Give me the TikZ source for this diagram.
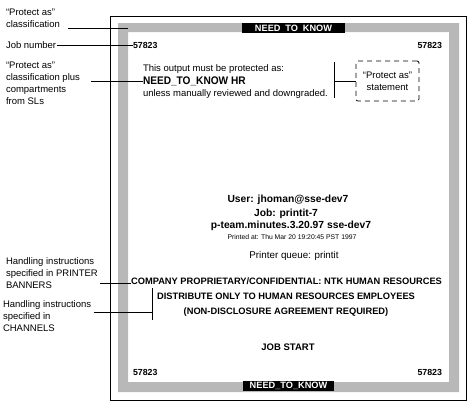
\documentclass[tikz,border=0pt]{standalone}
\usepackage{fontspec}
\setmainfont{Liberation Sans}
\newcommand{\fsz}[1]{\fontsize{#1}{#1}\selectfont}
\begin{document}
\begin{tikzpicture}[x=1pt,y=-1pt,
  every node/.style={inner sep=0pt,outer sep=0pt},
  ann/.style={anchor=north west,align=left,font=\fontsize{9.5}{12}\selectfont},
  lead/.style={line width=0.8pt},
  plain/.style={font=\fsz{9.5}},
  caps/.style={font=\fsz{9.3}\bfseries},
  jobno/.style={font=\fsz{8.8}\bfseries},
  header/.style={font=\fsz{10.3}\bfseries},
  banner/.style={fill=black,text=white,font=\fsz{9.2}\bfseries,minimum height=10pt},
  stmtbox/.style={draw,dash pattern=on 5pt off 4pt,rounded corners=2pt,line width=0.8pt,
    minimum width=63pt,minimum height=40pt,align=center,font=\fontsize{9.5}{12}\selectfont}
]
\useasboundingbox (0,0) rectangle (476,407);
% page
\draw[line width=0.8pt] (110,16) rectangle (466,400);
\fill[black!28,even odd rule] (118,23) rectangle (459,392) (128,32) rectangle (449,382);

% banners
\node[banner,minimum width=103pt] (ntkTop) at (293.5,28) {NEED\hspace{0.25em} TO\hspace{0.25em} KNOW};
\node[banner,minimum width=91pt] (ntkBot) at (288.5,386) {NEED\_TO\_KNOW};

% job numbers
\node[jobno,anchor=west] (jnTL) at (133,45) {57823};
\node[jobno,anchor=east] (jnTR) at (442,45) {57823};
\node[jobno,anchor=west] (jnBL) at (133,372) {57823};
\node[jobno,anchor=east] (jnBR) at (442,372) {57823};

% protect-as text
\node[plain,anchor=west] (protA) at (143,69) {This output must be protected as:};
\node[font=\fsz{11}\bfseries,anchor=west,xscale=0.92] (protB) at (143,81.5) {NEED\_TO\_KNOW HR};
\node[plain,anchor=west] (protC) at (143,94) {unless manually reviewed and downgraded.};

\node[stmtbox] (stmt) at (387.5,81) {“Protect as”\\statement};
\coordinate (brTop) at (334,62);
\coordinate (brBot) at (334,98);
\draw[lead] (brTop) -- (brBot);
\draw[lead] (brTop |- stmt.west) -- (stmt.west);

% centre block
\node[header] (user) at (288,200) {User: jhoman@sse-dev7};
\node[header] (job) at (286,213.5) {Job: printit-7};
\node[header] (pteam) at (291,226) {p-team.minutes.3.20.97 sse-dev7};
\node[font=\fsz{6.8}] (printed) at (292,237) {Printed at: Thu Mar 20 19:20:45 PST 1997};
\node[font=\fsz{9.8}] (queue) at (294,256) {Printer queue: printit};

\node[caps] (comp) at (286.5,281.5) {COMPANY PROPRIETARY/CONFIDENTIAL: NTK HUMAN RESOURCES};
\node[caps] (dist) at (286,296.5) {DISTRIBUTE ONLY TO HUMAN RESOURCES EMPLOYEES};
\node[caps] (nda) at (286,312) {(NON-DISCLOSURE AGREEMENT REQUIRED)};
\node[font=\fsz{9.5}\bfseries] (jstart) at (288,347) {JOB START};

% annotations
\node[ann,font=\fontsize{9.5}{12.5}\selectfont] (a1) at (6,8.8) {“Protect as”\\classification};
\node[plain,anchor=west] (a2) at (6,45) {Job number};
\node[ann] (a3) at (6,61.5) {“Protect as”\\classification plus\\compartments\\from SLs};
\node[ann] (a4) at (6,257.5) {Handling instructions\\specified in PRINTER\\BANNERS};
\node[ann] (a5) at (3,300.5) {Handling instructions\\specified in\\CHANNELS};

% leaders
\coordinate (l1s) at (68,28);
\coordinate (l1e) at (128,28);
\draw[lead] (l1s) -- (l1e);
\coordinate (l2s) at (57,45);
\draw[lead] (l2s) -- (jnTL.west);
\coordinate (l3s) at (91,81);
\draw[lead] (l3s) -- (l3s -| protB.west);
\coordinate (l4s) at (100,283);
\draw[lead] (l4s) -- (l4s -| comp.west);
\coordinate (brkTop) at (152.7,288);
\coordinate (brkBot) at (152.7,320);
\coordinate (l5s) at (94,312);
\draw[lead] (brkTop) -- (brkBot);
\draw[lead] (l5s) -- (l5s -| brkTop);
\end{tikzpicture}
\end{document}
